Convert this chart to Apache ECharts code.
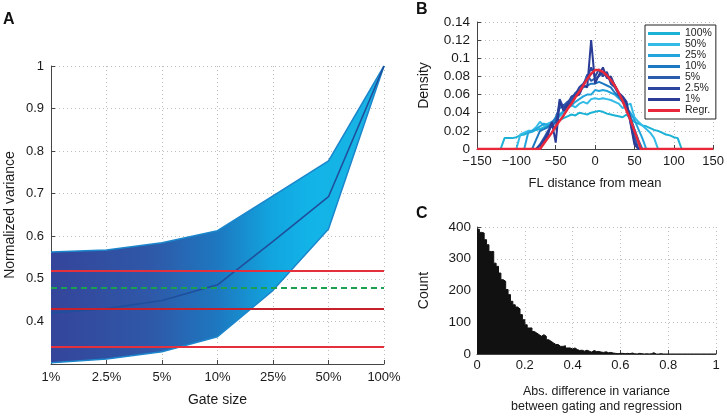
<!DOCTYPE html>
<html><head><meta charset="utf-8">
<script src="https://cdn.jsdelivr.net/npm/echarts@6/dist/echarts.min.js"></script>
<style>html,body{margin:0;padding:0;background:#fff}#c{width:727px;height:416px}</style>
</head><body><div id="c"></div>
<script>
// ---------- Panel A ----------
const gateLabels = ['1%', '2.5%', '5%', '10%', '25%', '50%', '100%'];
const varUpper = [0.563, 0.568, 0.585, 0.613, 0.695, 0.777, 1.0];
const varMean  = [0.420, 0.430, 0.449, 0.486, 0.588, 0.693, 1.0];
const varLower = [0.303, 0.312, 0.329, 0.364, 0.473, 0.617, 1.0];
const redLevels = [0.523, 0.426, 0.345];
const greenLevel = 0.485;
const aTicks = [0.3, 1.0, 0.1]; // min, max, interval

// ---------- Panel B ----------
const flX = [-125,-120,-115,-110,-105,-100,-95,-90,-85,-80,-75,-70,-65,-60,-55,-50,-45,-40,-35,-30,-25,-20,-15,-10,-5,0,5,10,15,20,25,30,35,40,45,50,55,60,65,70,75,80,85,90,95,100,105,110];
const d100 = [0,0,0.012,0.012,0.012,0.013,0.015,0.016,0.018,0.019,0.021,0.022,0.024,0.025,0.027,0.030,0.032,0.034,0.036,0.038,0.037,0.040,0.039,0.038,0.040,0.041,0.042,0.041,0.039,0.038,0.037,0.036,0.035,0.038,0.033,0.030,0.028,0.026,0.025,0.023,0.021,0.020,0.018,0.016,0.015,0.013,0.012,0];
const d50  = [0,0,0,0,0,0,0.016,0.018,0.020,0.020,0.024,0.030,0.026,0.028,0.030,0.033,0.036,0.040,0.045,0.048,0.046,0.050,0.052,0.050,0.055,0.056,0.055,0.056,0.055,0.054,0.052,0.050,0.045,0.048,0.050,0.035,0.030,0.026,0.022,0.018,0.012,0,0,0,0,0,0,0];
const d25  = [0,0,0,0,0,0,0,0,0.018,0.020,0.022,0.025,0.028,0.026,0.028,0.032,0.038,0.042,0.046,0.048,0.052,0.055,0.058,0.060,0.060,0.065,0.064,0.065,0.064,0.062,0.060,0.056,0.052,0.046,0.040,0.032,0.022,0.012,0,0,0,0,0,0,0,0,0,0];
const d10  = [0,0,0,0,0,0,0,0,0,0,0.010,0.020,0.022,0.024,0.028,0.035,0.045,0.048,0.050,0.055,0.060,0.065,0.068,0.070,0.072,0.072,0.074,0.072,0.070,0.068,0.062,0.058,0.052,0.045,0.035,0.022,0.010,0,0,0,0,0,0,0,0,0,0,0];
const d5   = [0,0,0,0,0,0,0,0,0,0,0,0.005,0.012,0.020,0.025,0.030,0.050,0.048,0.052,0.055,0.062,0.065,0.070,0.082,0.075,0.078,0.080,0.085,0.080,0.075,0.070,0.062,0.056,0.048,0.035,0.015,0,0,0,0,0,0,0,0,0,0,0,0];
const d2_5 = [0,0,0,0,0,0,0,0,0,0,0,0.004,0.010,0.018,0.028,0.022,0.055,0.045,0.050,0.058,0.060,0.068,0.072,0.078,0.090,0.080,0.088,0.080,0.085,0.072,0.068,0.060,0.055,0.050,0.030,0.008,0,0,0,0,0,0,0,0,0,0,0,0];
const d1   = [0,0,0,0,0,0,0,0,0,0,0,0,0.008,0.015,0.030,0.007,0.052,0.042,0.048,0.052,0.058,0.060,0.070,0.068,0.120,0.072,0.082,0.090,0.078,0.080,0.070,0.062,0.058,0.052,0.028,0.005,0,0,0,0,0,0,0,0,0,0,0,0];
const regrX = [-150,-70,-65,-60,-55,-50,-45,-40,-35,-30,-25,-20,-15,-10,-5,0,5,10,15,20,25,30,35,40,45,50,55,58,150];
const regrY = [0,0,0.006,0.012,0.018,0.025,0.031,0.037,0.044,0.050,0.057,0.063,0.070,0.077,0.083,0.087,0.087,0.085,0.081,0.076,0.070,0.062,0.053,0.042,0.032,0.020,0.008,0,0];
const bNames  = ['100%', '50%', '25%', '10%', '5%', '2.5%', '1%'];
const bColors = ['#1cb2d6', '#33bbe8', '#22a5dc', '#1c78c0', '#2a5cae', '#2c46a0', '#2b3c97'];
const bData   = [d100, d50, d25, d10, d5, d2_5, d1];

// ---------- Panel C ----------
const binWidth = 0.01;
const counts = [393,383,381,360,344,323,323,286,276,255,
  234,229,203,187,166,155,148,142,124,108,
  92,82,82,71,66,61,56,61,56,45,
  40,35,30,30,24,24,26,19,19,16,
  19,14,11,12,9,12,9,6,11,8,
  8,6,5,7,4,5,3,2,1,2,
  2,1,2,1,3,1,0,2,1,0,
  1,0,1,4,0,0,1,0,0,0,
  0,0,0,0,0,0,0,0,0,0,
  0,0,0,0,0,0,0,0,0,0];

const FONT = "'Liberation Sans', Arial, sans-serif";
const axisCol = '#444';
const dotted = { show: true, lineStyle: { color: '#bdbdbd', type: [1, 3], width: 1 } };
const tickIn = { show: true, inside: true, length: 4, lineStyle: { color: axisCol } };
const aLine = { show: true, onZero: false, lineStyle: { color: axisCol, width: 1 } };
const lab = (size, margin, fmt) => ({ color: '#1a1a1a', fontSize: size, fontFamily: FONT, margin: margin, formatter: fmt });
const nameStyle = (size) => ({ color: '#1a1a1a', fontSize: size, fontFamily: FONT });
const trim = v => String(Math.round(v * 1000) / 1000);
const minus = v => trim(v).replace('-', '\u2212');

const chart = echarts.init(document.getElementById('c'), null, { renderer: 'canvas' });

const series = [];
// Panel A band
series.push({ type: 'line', xAxisIndex: 0, yAxisIndex: 0, name: 'lowerA', data: varLower, stack: 'band',
  symbol: 'none', lineStyle: { color: '#1b86cc', width: 1.5 }, z: 2 });
series.push({ type: 'line', xAxisIndex: 0, yAxisIndex: 0, name: 'bandA', data: varUpper.map((u, i) => u - varLower[i]), stack: 'band',
  symbol: 'none', lineStyle: { color: '#1b86cc', width: 1.5 },
  areaStyle: { opacity: 1, color: new echarts.graphic.LinearGradient(0, 0, 1, 0, [
    { offset: 0, color: '#34459a' }, { offset: 0.3, color: '#2f58a8' }, { offset: 0.5, color: '#1d78c0' },
    { offset: 0.66, color: '#12a4de' }, { offset: 0.78, color: '#12b4e8' }, { offset: 1, color: '#1ab2e2' }]) }, z: 2 });
series.push({ type: 'line', xAxisIndex: 0, yAxisIndex: 0, name: 'meanA', data: varMean,
  symbol: 'none', lineStyle: { color: '#1f4f9c', width: 1.6 }, z: 3 });
series.push({ type: 'line', xAxisIndex: 0, yAxisIndex: 0, name: 'refA', data: [], z: 4,
  markLine: { silent: true, symbol: 'none', label: { show: false },
    data: redLevels.map((v, i) => ({ yAxis: v, lineStyle: { color: i === 1 ? '#c4202e' : '#e4303c', width: 2, type: 'solid' } }))
      .concat([{ yAxis: greenLevel, lineStyle: { color: '#1aa04e', width: 2, type: [6, 4] } }]) } });

// Panel B
bData.forEach((arr, k) => {
  series.push({ type: 'line', name: bNames[k], xAxisIndex: 1, yAxisIndex: 1, data: arr.map((y, i) => [flX[i], y]),
    symbol: 'none', color: bColors[k], lineStyle: { color: bColors[k], width: 2 }, z: 3 + k });
});
series.push({ type: 'line', name: 'Regr.', xAxisIndex: 1, yAxisIndex: 1, data: regrY.map((y, i) => [regrX[i], y]),
  symbol: 'none', color: '#e8283a', lineStyle: { color: '#e8283a', width: 2.5 }, z: 12 });

// Panel C
const histData = counts.map((c, i) => [i * binWidth, c]).concat([[counts.length * binWidth, 0]]);
series.push({ type: 'line', name: 'hist', xAxisIndex: 2, yAxisIndex: 2, data: histData, step: 'end',
  symbol: 'none', lineStyle: { color: '#111', width: 1 }, areaStyle: { color: '#111', opacity: 1 }, z: 3 });

chart.setOption({
  animation: false,
  backgroundColor: '#fff',
  title: [
    { text: 'A', left: 3, top: 12, padding: 0, textStyle: { fontSize: 16, fontWeight: 'bold', fontFamily: FONT, color: '#111' } },
    { text: 'B', left: 416, top: 2, padding: 0, textStyle: { fontSize: 16, fontWeight: 'bold', fontFamily: FONT, color: '#111' } },
    { text: 'C', left: 416, top: 206, padding: 0, textStyle: { fontSize: 16, fontWeight: 'bold', fontFamily: FONT, color: '#111' } }
  ],
  legend: {
    data: bNames.concat(['Regr.']), orient: 'vertical', left: 645, top: 25,
    padding: [3, 4, 3, 3], itemGap: 0, itemWidth: 32, itemHeight: 3, icon: 'rect',
    borderColor: '#222', borderWidth: 1, backgroundColor: '#fff',
    textStyle: { fontSize: 10.5, lineHeight: 10, fontFamily: FONT, color: '#222' }, selectedMode: false
  },
  grid: [
    { left: 51, top: 66, width: 333, height: 298 },
    { left: 477, top: 22, width: 239, height: 127 },
    { left: 477, top: 227, width: 239, height: 127 }
  ],
  xAxis: [
    { type: 'category', gridIndex: 0, data: gateLabels, boundaryGap: false,
      axisLine: aLine, axisTick: tickIn, splitLine: dotted, axisLabel: lab(13, 7),
      name: 'Gate size', nameLocation: 'middle', nameGap: 29, nameTextStyle: nameStyle(14) },
    { type: 'value', gridIndex: 1, min: -150, max: 150, interval: 50,
      axisLine: aLine, axisTick: tickIn, splitLine: dotted, axisLabel: lab(13, 6, minus),
      name: 'FL distance from mean', nameLocation: 'middle', nameGap: 28, nameTextStyle: nameStyle(13) },
    { type: 'value', gridIndex: 2, min: 0, max: 1, interval: 0.2,
      axisLine: aLine, axisTick: tickIn, splitLine: dotted, axisLabel: lab(13, 5, trim),
      name: 'Abs. difference in variance\nbetween gating and regression', nameLocation: 'middle', nameGap: 30,
      nameTextStyle: Object.assign(nameStyle(12.5), { lineHeight: 15 }) }
  ],
  yAxis: [
    { type: 'value', gridIndex: 0, min: aTicks[0], max: aTicks[1], interval: aTicks[2],
      axisLine: aLine, axisTick: tickIn, splitLine: dotted,
      axisLabel: Object.assign(lab(13, 7, trim), { showMinLabel: false }),
      name: 'Normalized variance', nameLocation: 'middle', nameGap: 34, nameTextStyle: nameStyle(14) },
    { type: 'value', gridIndex: 1, min: 0, max: 0.14, interval: 0.02,
      axisLine: aLine, axisTick: tickIn, splitLine: dotted, axisLabel: lab(13.5, 7, trim),
      name: 'Density', nameLocation: 'middle', nameGap: 46, nameTextStyle: nameStyle(14) },
    { type: 'value', gridIndex: 2, min: 0, max: 400, interval: 100,
      axisLine: aLine, axisTick: tickIn, splitLine: dotted, axisLabel: lab(13.5, 6, trim),
      name: 'Count', nameLocation: 'middle', nameGap: 46, nameTextStyle: nameStyle(14) }
  ],
  series: series
});
</script></body></html>
